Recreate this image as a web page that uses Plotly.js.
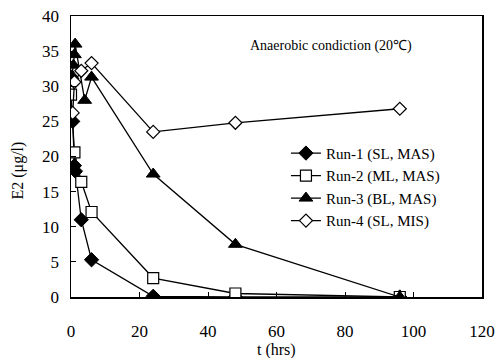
<!DOCTYPE html>
<html>
<head>
<meta charset="utf-8">
<script src="https://cdn.plot.ly/plotly-3.0.1.min.js"></script>
<style>
  html, body { margin: 0; padding: 0; background: #fff; }
  #chart { width: 499px; height: 358px; }
</style>
</head>
<body>
<div id="chart"></div>
<script>
// E2 concentration over time for four anaerobic runs
const run1Time = [0.5, 1, 1.3, 3, 6, 24, 48, 96];
const run1E2   = [25, 18.7, 17.9, 11, 5.3, 0.1, 0, 0];

const run2Time = [0, 1, 3, 6, 24, 48, 96];
const run2E2   = [28.8, 20.6, 16.4, 12.1, 2.7, 0.5, 0];

const run3Time = [0.3, 0.7, 1, 1.2, 4, 6, 24, 48, 96];
const run3E2   = [31.5, 33, 34.5, 36, 28, 31.3, 17.5, 7.5, 0];

const run4Time = [0.5, 1, 3, 6, 24, 48, 96];
const run4E2   = [26.2, 30.6, 32.2, 33.3, 23.5, 24.8, 26.8];

const seriesNames = ['Run-1 (SL, MAS)', 'Run-2 (ML, MAS)', 'Run-3 (BL, MAS)', 'Run-4 (SL, MIS)'];
const xTicks = [0, 20, 40, 60, 80, 100, 120];
const yTicks = [0, 5, 10, 15, 20, 25, 30, 35, 40];

const serif = 'Liberation Serif, Times New Roman, serif';
const lineStyle = { color: '#000', width: 1.3 };

const traces = [
  { x: run1Time, y: run1E2, name: seriesNames[0], mode: 'lines+markers', line: lineStyle,
    marker: { symbol: 'diamond', size: 11, color: '#000', line: { color: '#000', width: 1 } } },
  { x: run2Time, y: run2E2, name: seriesNames[1], mode: 'lines+markers', line: lineStyle,
    marker: { symbol: 'square', size: 11, color: '#fff', line: { color: '#000', width: 1.2 } } },
  { x: run3Time, y: run3E2, name: seriesNames[2], mode: 'lines+markers', line: lineStyle,
    marker: { symbol: 'triangle-up', size: 12, color: '#000', line: { color: '#000', width: 1 } } },
  { x: run4Time, y: run4E2, name: seriesNames[3], mode: 'lines+markers', line: lineStyle,
    marker: { symbol: 'diamond', size: 10, color: '#fff', line: { color: '#000', width: 1.2 } } }
];

const axisCommon = {
  showgrid: false, zeroline: false, showline: true, mirror: true,
  linecolor: '#000', linewidth: 1.5,
  ticks: 'inside', ticklen: 5, tickcolor: '#000', tickwidth: 1,
  tickfont: { family: serif, size: 17, color: '#000' }
};

const layout = {
  width: 499, height: 358,
  margin: { l: 71, r: 17, t: 16, b: 61 },
  paper_bgcolor: '#fff', plot_bgcolor: '#fff',
  showlegend: true,
  legend: {
    x: 0.523, y: 0.57, xanchor: 'left', yanchor: 'top',
    bgcolor: 'rgba(0,0,0,0)', tracegroupgap: 0,
    font: { family: serif, size: 15, color: '#000' },
    itemwidth: 30
  },
  xaxis: Object.assign({}, axisCommon, {
    range: [0, 120], tickvals: xTicks, ticklabelstandoff: 18
  }),
  yaxis: Object.assign({}, axisCommon, {
    range: [0, 40], tickvals: yTicks, ticklabelstandoff: 7
  }),
  annotations: [
    {
      text: 'Anaerobic condiction (20℃)', xref: 'paper', yref: 'paper',
      x: 0.835, y: 0.893, xanchor: 'right', yanchor: 'middle', showarrow: false,
      font: { family: serif, size: 14, color: '#000' }
    },
    {
      text: 't (hrs)', xref: 'paper', yref: 'paper',
      x: 0.5, y: -0.189, xanchor: 'center', yanchor: 'middle', showarrow: false,
      font: { family: serif, size: 16, color: '#000' }
    },
    {
      text: 'E2 (μg/l)', xref: 'paper', yref: 'paper', textangle: -90,
      x: -0.129, y: 0.45, xanchor: 'center', yanchor: 'middle', showarrow: false,
      font: { family: serif, size: 16, color: '#000' }
    }
  ]
};

Plotly.newPlot('chart', traces, layout, { displayModeBar: false, staticPlot: true });
</script>
</body>
</html>
